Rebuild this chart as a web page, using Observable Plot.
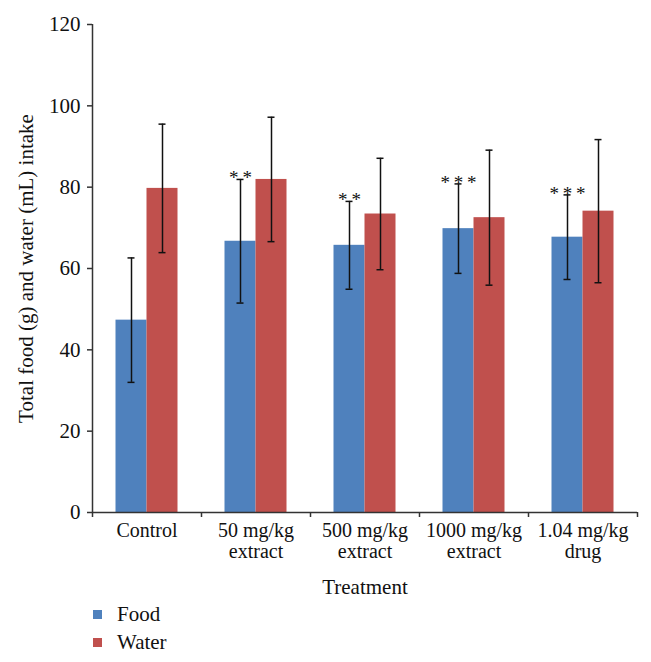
<!DOCTYPE html>
<html>
<head>
<meta charset="utf-8">
<script src="https://cdn.jsdelivr.net/npm/d3@7"></script>
<script src="https://cdn.jsdelivr.net/npm/@observablehq/plot@0.6"></script>
<style>
  body { margin: 0; background: #fff; font-family: "Liberation Serif", "DejaVu Serif", serif; }
  #chart svg { display: block; }
  .legend { padding-left: 93px; font-size: 21px; color: #111; }
  .legend .item { height: 28px; line-height: 28px; display: flex; align-items: center; }
  .legend .sw { display: inline-block; width: 9px; height: 9px; margin-right: 15px; }
</style>
</head>
<body>
<div id="chart"></div>
<div class="legend">
  <div class="item"><span class="sw" style="background:#4F81BD"></span><span>Food</span></div>
  <div class="item"><span class="sw" style="background:#C0504D"></span><span>Water</span></div>
</div>
<script>
const categories = ["Control", "50 mg/kg extract", "500 mg/kg extract", "1000 mg/kg extract", "1.04 mg/kg drug"];
const tickLabels = ["Control", "50 mg/kg\nextract", "500 mg/kg\nextract", "1000 mg/kg\nextract", "1.04 mg/kg\ndrug"];
const foodMean = [47.3, 66.7, 65.7, 69.8, 67.7];
const foodErr = [15.3, 15.2, 10.8, 11.0, 10.4];
const waterMean = [79.7, 81.9, 73.4, 72.5, 74.1];
const waterErr = [15.8, 15.3, 13.7, 16.6, 17.6];
const foodStars = ["", "**", "**", "***", "***"];
const yTicks = [0, 20, 40, 60, 80, 100, 120];

const W = 651, H = 600, ML = 92, MR = 14, MT = 24, MB = 88;
const bw = (W - ML - MR) / categories.length;
const barW = 31;
const off = barW / 2;           // offset of each bar centre from band centre
const capW = 7;

const food = categories.map((c, i) => ({cat: c, v: foodMean[i], lo: foodMean[i] - foodErr[i], hi: foodMean[i] + foodErr[i], star: foodStars[i]}));
const water = categories.map((c, i) => ({cat: c, v: waterMean[i], lo: waterMean[i] - waterErr[i], hi: waterMean[i] + waterErr[i]}));
const labelOf = Object.fromEntries(categories.map((c, i) => [c, tickLabels[i]]));
const starText = s => s.split("").join("\u2009");

const axisColor = "#333";
const font = "Liberation Serif, DejaVu Serif, serif";
const fs = 21;

const chart = Plot.plot({
  width: W, height: H,
  marginLeft: ML, marginRight: MR, marginTop: MT, marginBottom: MB,
  style: {fontFamily: font, fontSize: fs + "px", color: "#111", background: "#fff"},
  x: {domain: categories, padding: 0, axis: null},
  y: {domain: [0, 120], axis: null},
  marks: [
    // bars
    Plot.barY(food, {x: "cat", y: "v", fill: "#4F81BD", insetLeft: bw / 2 - barW, insetRight: bw / 2}),
    Plot.barY(water, {x: "cat", y: "v", fill: "#C0504D", insetLeft: bw / 2, insetRight: bw / 2 - barW}),
    // error bars
    Plot.ruleX(food, {x: "cat", y1: "lo", y2: "hi", dx: -off, stroke: "#111", strokeWidth: 1.5}),
    Plot.ruleX(water, {x: "cat", y1: "lo", y2: "hi", dx: off, stroke: "#111", strokeWidth: 1.5}),
    Plot.tickY(food, {x: "cat", y: "lo", dx: -off, insetLeft: (bw - capW) / 2, insetRight: (bw - capW) / 2, stroke: "#111", strokeWidth: 1.5}),
    Plot.tickY(food, {x: "cat", y: "hi", dx: -off, insetLeft: (bw - capW) / 2, insetRight: (bw - capW) / 2, stroke: "#111", strokeWidth: 1.5}),
    Plot.tickY(water, {x: "cat", y: "lo", dx: off, insetLeft: (bw - capW) / 2, insetRight: (bw - capW) / 2, stroke: "#111", strokeWidth: 1.5}),
    Plot.tickY(water, {x: "cat", y: "hi", dx: off, insetLeft: (bw - capW) / 2, insetRight: (bw - capW) / 2, stroke: "#111", strokeWidth: 1.5}),
    // significance stars
    Plot.text(food.filter(d => d.star), {x: "cat", y: "hi", text: d => starText(d.star), dx: -off, dy: 5, lineAnchor: "bottom", fontSize: 19, fill: "#111"}),
    // axes lines
    Plot.ruleY([0], {stroke: axisColor, strokeWidth: 1.5}),
    Plot.ruleX([0], {x: () => categories[0], dx: -bw / 2, y1: 0, y2: 120, stroke: axisColor, strokeWidth: 1.5}),
    // y axis ticks & labels
    Plot.axisY({ticks: yTicks, tickSize: 5, tickPadding: 7, stroke: axisColor, strokeWidth: 1.5, fontSize: fs, label: null}),
    // x axis boundary ticks
    Plot.axisX({ticks: categories, tickSize: 5, tickFormat: () => "", dx: -bw / 2, stroke: axisColor, strokeWidth: 1.5, label: null}),
    Plot.axisX({ticks: [categories[categories.length - 1]], tickSize: 5, tickFormat: () => "", dx: bw / 2, stroke: axisColor, strokeWidth: 1.5, label: null}),
    // x tick labels
    Plot.text(categories, {x: d => d, text: d => labelOf[d], frameAnchor: "bottom", lineAnchor: "top", dy: 10, lineHeight: 1.05, fontSize: 20, fill: "#111"}),
    // axis titles
    Plot.text(["Treatment"], {frameAnchor: "bottom", lineAnchor: "middle", dy: 75, fontSize: fs, fill: "#111"}),
    Plot.text(["Total food (g) and water (mL) intake"], {frameAnchor: "left", textAnchor: "middle", rotate: -90, dx: -66, fontSize: fs, fill: "#111"})
  ]
});
document.getElementById("chart").appendChild(chart);
</script>
</body>
</html>
